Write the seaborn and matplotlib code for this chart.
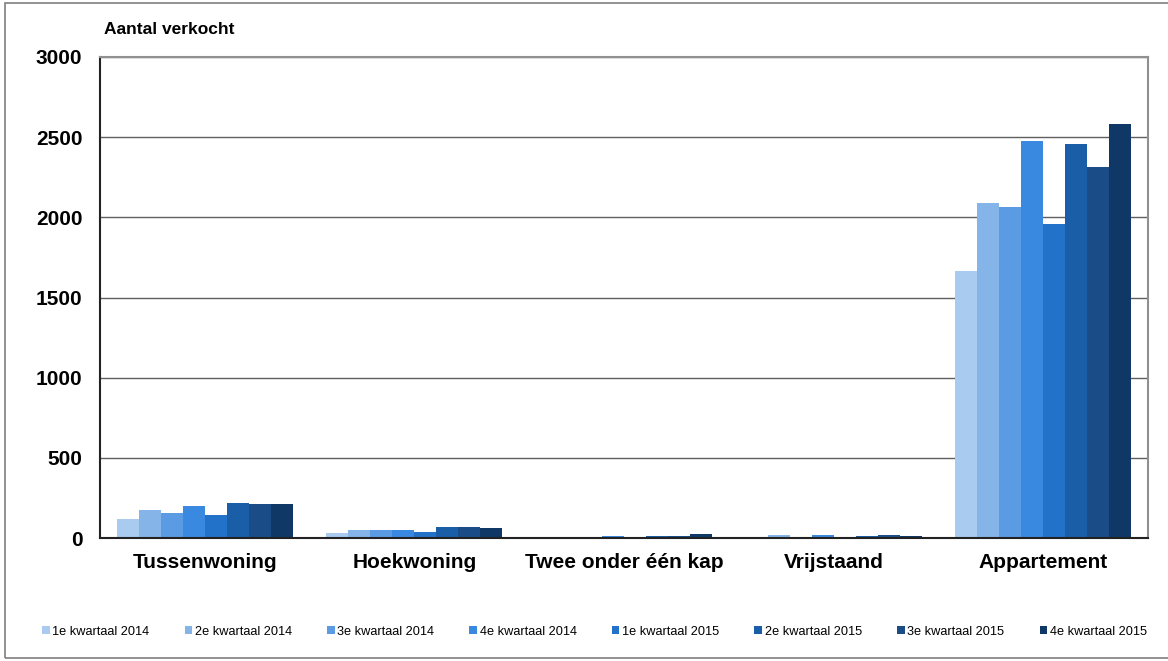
import matplotlib
matplotlib.use('Agg')
import matplotlib.pyplot as plt
import seaborn as sns
import pandas as pd
import numpy as np
from matplotlib.patches import Rectangle

# Woningtypes op de x-as
categories = ['Tussenwoning', 'Hoekwoning', 'Twee onder één kap', 'Vrijstaand', 'Appartement']

# Kwartalen (legenda)
quarters = ['1e kwartaal 2014', '2e kwartaal 2014', '3e kwartaal 2014', '4e kwartaal 2014',
            '1e kwartaal 2015', '2e kwartaal 2015', '3e kwartaal 2015', '4e kwartaal 2015']

# Aantal verkocht per woningtype, per kwartaal
q1_2014 = [118, 30, 8, 8, 1666]
q2_2014 = [175, 50, 3, 18, 2088]
q3_2014 = [156, 50, 8, 6, 2064]
q4_2014 = [200, 53, 12, 18, 2473]
q1_2015 = [144, 38, 4, 3, 1959]
q2_2015 = [220, 69, 15, 12, 2456]
q3_2015 = [215, 69, 15, 18, 2311]
q4_2015 = [212, 63, 22, 15, 2581]

series = [q1_2014, q2_2014, q3_2014, q4_2014, q1_2015, q2_2015, q3_2015, q4_2015]

colors = ['#A9CBEF', '#85B5E8', '#5B9BE3', '#3A89E0', '#2272C9', '#1B5EA8', '#1A4C88', '#0F3866']

yticks = [0, 500, 1000, 1500, 2000, 2500, 3000]

rows = []
for q, vals in zip(quarters, series):
    for c, v in zip(categories, vals):
        rows.append({'type': c, 'kwartaal': q, 'aantal': v})
df = pd.DataFrame(rows)

sns.set_style('white')
plt.rcParams['font.family'] = ['Liberation Sans', 'DejaVu Sans']
plt.rcParams['text.color'] = 'black'
plt.rcParams['xtick.color'] = 'black'
plt.rcParams['ytick.color'] = 'black'

fig = plt.figure(figsize=(11.68, 6.61), dpi=100)
ax = fig.add_axes([100 / 1168, 123 / 661, 1048 / 1168, 481 / 661])

sns.barplot(data=df, x='type', y='aantal', hue='kwartaal', order=categories,
            hue_order=quarters, palette=colors, saturation=1, width=0.84, gap=0,
            linewidth=0, ax=ax, legend=True)

ax.set_ylim(0, 3000)
ax.set_xlim(-0.5, len(categories) - 0.5)
ax.set_yticks(yticks)
ax.set_yticklabels([str(t) for t in yticks], fontsize=15, fontweight='bold', color='black')
ax.set_xticks(range(len(categories)))
ax.set_xticklabels(categories, fontsize=15, fontweight='bold', color='black')
ax.tick_params(axis='x', which='major', length=0, pad=11)
ax.set_xticks(np.arange(-0.5, len(categories), 1), minor=True)
ax.tick_params(axis='x', which='minor', length=4, width=1.2, color='#333333', direction='out')
ax.tick_params(axis='y', length=3.6, width=1, color='#555555', direction='out', pad=9)
ax.set_xlabel('')
ax.set_ylabel('')

ax.yaxis.grid(True, color='#606060', linewidth=1.0)
ax.set_axisbelow(True)

for s in ['top', 'right']:
    ax.spines[s].set_color('#909090')
    ax.spines[s].set_linewidth(1.5)
for s in ['left', 'bottom']:
    ax.spines[s].set_color('#222222')
    ax.spines[s].set_linewidth(1.5)

fig.text(104 / 1168, 1 - 30 / 661, 'Aantal verkocht', fontsize=12.5, fontweight='bold',
         ha='left', va='center', color='black')

handles, labels = ax.get_legend_handles_labels()
leg = ax.legend(handles, labels, loc='center', bbox_to_anchor=(0.509, 0.044),
                bbox_transform=fig.transFigure, ncol=8, frameon=False, fontsize=9.2,
                handlelength=0.6, handleheight=0.6, handletextpad=0.2, columnspacing=2.75)
for t in leg.get_texts():
    t.set_color('black')

fig.add_artist(Rectangle((5 / 1168, 3 / 661), 1.2, 1 - 6 / 661, transform=fig.transFigure,
                         fill=False, edgecolor='#7f7f7f', linewidth=1.2))

fig.savefig('out.png', dpi=100)
